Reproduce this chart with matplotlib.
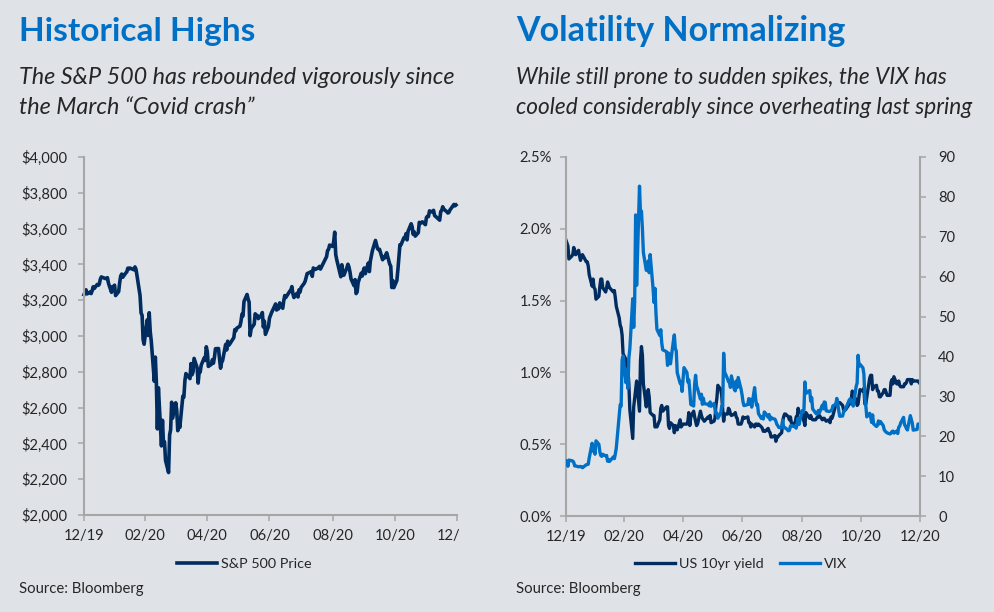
"""Recreates the two-panel S&P 500 / VIX market chart."""

import matplotlib
matplotlib.use("Agg")
import matplotlib.pyplot as plt
import pandas as pd
from matplotlib.transforms import Bbox

NAVY = "#002C5F"
BLUE = "#0070C6"
GREY = "#A6A6A6"
BG = "#DFE3E8"
TEXT = "#262626"

holidays = ["2020-01-01", "2020-01-20", "2020-02-17", "2020-04-10", "2020-05-25",
            "2020-07-03", "2020-09-07", "2020-11-26", "2020-12-25"]
dates = pd.bdate_range("2019-12-31", "2020-12-30", freq="C", holidays=holidays)

sp500 = [
    3231,
    3258, 3235, 3246, 3237, 3253, 3275, 3265, 3288, 3283, 3289, 3317, 3330, 3321, 3321, 3326, 3295, 3244, 3276, 3273, 3284, 3226,
    3248, 3298, 3335, 3346, 3328, 3352, 3358, 3379, 3374, 3380, 3370, 3386, 3373, 3338, 3226, 3128, 3116, 2979, 2954,
    3090, 3003, 3130, 3024, 2972, 2747, 2882, 2741, 2481, 2711, 2386, 2529, 2398, 2409, 2305, 2237, 2447, 2476, 2630, 2541, 2627, 2585,
    2471, 2527, 2489, 2664, 2659, 2750, 2790, 2762, 2846, 2783, 2800, 2875, 2823, 2737, 2799, 2798, 2837, 2878, 2863, 2940, 2912,
    2830, 2842, 2868, 2848, 2881, 2929, 2930, 2870, 2820, 2852, 2863, 2953, 2922, 2971, 2948, 2955, 2991, 3036, 3029, 3044,
    3055, 3080, 3122, 3112, 3193, 3232, 3207, 3190, 3002, 3041, 3066, 3124, 3113, 3115, 3097, 3117, 3131, 3050, 3083, 3009, 3053, 3100,
    3115, 3130, 3179, 3145, 3169, 3152, 3185, 3155, 3197, 3226, 3215, 3224, 3251, 3257, 3276, 3235, 3215, 3239, 3218, 3258, 3246, 3271,
    3294, 3306, 3327, 3349, 3351, 3360, 3333, 3380, 3373, 3372, 3381, 3389, 3374, 3385, 3397, 3431, 3443, 3478, 3484, 3508, 3500,
    3527, 3580, 3455, 3426, 3331, 3398, 3339, 3340, 3383, 3401, 3385, 3357, 3319, 3281, 3315, 3237, 3246, 3298, 3351, 3335, 3363,
    3380, 3348, 3408, 3360, 3419, 3447, 3477, 3534, 3511, 3488, 3483, 3484, 3426, 3443, 3436, 3453, 3465, 3401, 3390, 3271, 3310, 3270,
    3310, 3370, 3443, 3510, 3509, 3550, 3545, 3572, 3537, 3585, 3627, 3610, 3568, 3582, 3558, 3577, 3635, 3629, 3638, 3622,
    3662, 3669, 3667, 3699, 3692, 3702, 3673, 3668, 3663, 3647, 3695, 3702, 3722, 3709, 3694, 3687, 3690, 3703, 3735, 3727, 3732,
]

us10yr = [
    1.92,
    1.88, 1.79, 1.81, 1.82, 1.87, 1.85, 1.82, 1.85, 1.81, 1.78, 1.81, 1.82, 1.77, 1.77, 1.74, 1.68, 1.60, 1.65, 1.59, 1.58, 1.51,
    1.53, 1.60, 1.65, 1.65, 1.59, 1.56, 1.59, 1.63, 1.61, 1.59, 1.56, 1.57, 1.52, 1.46, 1.38, 1.33, 1.31, 1.26, 1.13,
    1.09, 1.00, 1.02, 0.92, 0.74, 0.54, 0.76, 0.82, 0.88, 0.94, 0.73, 1.08, 1.18, 1.12, 0.92, 0.76, 0.84, 0.88, 0.83, 0.72, 0.70, 0.70,
    0.62, 0.63, 0.62, 0.67, 0.75, 0.77, 0.73, 0.76, 0.76, 0.63, 0.61, 0.65, 0.63, 0.58, 0.63, 0.62, 0.60, 0.67, 0.62, 0.63, 0.64,
    0.64, 0.64, 0.66, 0.72, 0.63, 0.69, 0.73, 0.69, 0.66, 0.63, 0.64, 0.73, 0.70, 0.68, 0.67, 0.66, 0.69, 0.68, 0.70, 0.65,
    0.66, 0.68, 0.77, 0.82, 0.91, 0.88, 0.84, 0.74, 0.66, 0.71, 0.71, 0.75, 0.74, 0.71, 0.70, 0.71, 0.72, 0.69, 0.68, 0.64, 0.64, 0.66,
    0.69, 0.68, 0.69, 0.65, 0.65, 0.62, 0.64, 0.62, 0.64, 0.64, 0.63, 0.64, 0.62, 0.61, 0.59, 0.59, 0.59, 0.61, 0.59, 0.58, 0.55, 0.55,
    0.56, 0.52, 0.55, 0.55, 0.56, 0.58, 0.66, 0.69, 0.71, 0.71, 0.69, 0.67, 0.69, 0.65, 0.64, 0.65, 0.69, 0.69, 0.75, 0.72, 0.72,
    0.68, 0.66, 0.63, 0.72, 0.68, 0.70, 0.68, 0.67, 0.67, 0.68, 0.69, 0.69, 0.70, 0.67, 0.68, 0.68, 0.67, 0.66, 0.67, 0.65, 0.69,
    0.68, 0.70, 0.78, 0.79, 0.79, 0.79, 0.79, 0.77, 0.74, 0.74, 0.74, 0.75, 0.78, 0.79, 0.82, 0.87, 0.84, 0.81, 0.77, 0.78, 0.84, 0.88,
    0.87, 0.89, 0.78, 0.78, 0.83, 0.96, 0.98, 0.98, 0.88, 0.90, 0.91, 0.87, 0.87, 0.83, 0.83, 0.86, 0.88, 0.88, 0.84, 0.84,
    0.93, 0.95, 0.92, 0.97, 0.92, 0.92, 0.94, 0.91, 0.90, 0.90, 0.92, 0.92, 0.93, 0.95, 0.95, 0.92, 0.95, 0.94, 0.94, 0.94, 0.93,
]

vix = [
    13.78,
    12.47, 14.02, 13.85, 13.79, 13.45, 12.54, 12.56, 12.32, 12.39, 12.42, 12.32, 12.10, 12.85, 12.91, 12.98, 14.56, 18.23, 16.28, 16.39, 15.49, 18.84,
    17.97, 16.05, 15.15, 14.96, 15.47, 15.04, 15.18, 13.74, 14.15, 13.68, 14.83, 14.38, 15.56, 17.08, 25.03, 27.85, 27.56, 39.16, 40.11,
    33.42, 36.82, 31.99, 39.62, 41.94, 54.46, 47.30, 53.90, 75.47, 57.83, 82.69, 75.91, 76.45, 72.00, 66.04, 61.59, 61.67, 63.95, 61.00, 65.54, 57.08, 53.54,
    57.06, 50.91, 46.80, 45.24, 46.70, 43.35, 41.67, 41.17, 37.76, 40.84, 40.11, 38.15, 43.83, 45.41, 41.98, 41.38, 35.93, 33.29, 33.57, 31.23, 34.15,
    37.19, 35.97, 33.61, 34.12, 31.44, 27.98, 27.57, 33.04, 35.28, 32.61, 31.89, 29.30, 30.53, 27.99, 29.53, 28.16, 28.01, 27.62, 28.59, 27.51,
    28.23, 26.84, 25.66, 25.81, 24.52, 25.81, 27.57, 27.57, 40.79, 36.09, 34.40, 33.67, 33.47, 32.24, 35.12, 31.77, 31.37, 33.84, 32.22, 34.73, 31.78, 30.43,
    28.62, 27.68, 27.94, 29.43, 28.08, 29.26, 27.29, 32.19, 29.52, 27.76, 28.00, 25.68, 24.46, 24.84, 24.32, 26.08, 25.84, 24.74, 25.44, 24.10, 24.76, 24.46,
    24.28, 23.76, 22.99, 22.65, 22.21, 22.13, 24.03, 22.28, 22.13, 22.05, 21.35, 21.51, 22.54, 22.72, 22.54, 22.37, 22.03, 23.27, 24.47, 22.96, 26.41,
    26.12, 26.57, 33.60, 30.75, 31.46, 28.81, 29.71, 26.87, 25.85, 25.59, 26.04, 26.46, 25.83, 27.78, 26.86, 28.58, 28.51, 26.38, 26.19, 26.27, 26.37,
    26.70, 27.63, 27.96, 29.48, 28.06, 26.36, 25.00, 25.07, 26.07, 26.40, 26.97, 27.41, 29.18, 29.35, 28.65, 28.11, 27.55, 32.46, 33.35, 40.28, 37.59, 38.02,
    37.13, 35.55, 29.57, 27.58, 24.86, 25.75, 24.80, 23.45, 25.35, 23.10, 22.45, 22.71, 23.84, 23.11, 23.70, 22.66, 21.64, 21.25, 20.84, 20.57,
    20.77, 21.17, 21.28, 20.79, 21.30, 20.68, 22.27, 22.52, 23.31, 24.72, 22.89, 22.50, 21.93, 21.57, 25.16, 24.23, 23.31, 21.53, 21.70, 23.08, 22.77,
]

tick_dates = pd.to_datetime(["2019-12-31", "2020-02-29", "2020-04-30", "2020-06-30",
                             "2020-08-31", "2020-10-31", "2020-12-31"])
tick_labels = ["12/19", "02/20", "04/20", "06/20", "08/20", "10/20", "12/20"]

price_ticks = [2000, 2200, 2400, 2600, 2800, 3000, 3200, 3400, 3600, 3800, 4000]
yield_ticks = [0, 0.5, 1.0, 1.5, 2.0, 2.5]
vix_ticks = [0, 10, 20, 30, 40, 50, 60, 70, 80, 90]

W, H = 994, 612
plt.rcParams["font.family"] = ["Lato", "DejaVu Sans"]


def px_axes(fig, left, right, top, bottom):
    return fig.add_axes([left / W, 1 - bottom / H, (right - left) / W, (bottom - top) / H])


def style_axis(ax):
    ax.set_facecolor("none")
    ax.spines["top"].set_visible(False)
    for side in ["left", "right", "bottom"]:
        ax.spines[side].set_color(GREY)
        ax.spines[side].set_linewidth(1.5)
    ax.tick_params(axis="both", color=GREY, width=1.1, length=4, labelsize=10.6,
                   labelcolor=TEXT)
    ax.tick_params(axis="x", pad=6)
    ax.tick_params(axis="y", pad=8)
    ax.set_xlim(tick_dates[0], tick_dates[-1])
    ax.set_xticks(tick_dates)
    ax.set_xticklabels(tick_labels)


fig = plt.figure(figsize=(W / 100, H / 100), dpi=100, facecolor=BG)

# left panel
ax1 = px_axes(fig, 84, 457, 157, 515)
style_axis(ax1)
ax1.spines["right"].set_visible(False)
ax1.plot(dates, sp500, color=NAVY, lw=2.6, label="S&P 500 Price", solid_joinstyle="round", clip_on=False)
ax1.set_ylim(2000, 4000)
ax1.set_yticks(price_ticks)
ax1.set_yticklabels([f"${v:,}" for v in price_ticks])
# last date label is cut off in the original
clip_box = Bbox([[0, 0], [460, H]])
last = ax1.get_xticklabels()[-1]
last.set_clip_box(clip_box)
last.set_clip_on(True)

# right panel
ax2 = px_axes(fig, 566, 920, 157, 516)
style_axis(ax2)
ax2.tick_params(axis="y", pad=6)
ax2.spines["right"].set_visible(False)
line1, = ax2.plot(dates, us10yr, color=NAVY, lw=2.4, label="US 10yr yield", solid_joinstyle="round")
ax2.set_ylim(0, 2.5)
ax2.set_yticks(yield_ticks)
ax2.set_yticklabels([f"{v:.1f}%" for v in yield_ticks])

ax3 = ax2.twinx()
ax3.set_facecolor("none")
for side in ["top", "left", "bottom"]:
    ax3.spines[side].set_visible(False)
ax3.spines["right"].set_color(GREY)
ax3.spines["right"].set_linewidth(1.5)
line2, = ax3.plot(dates, vix, color=BLUE, lw=2.4, label="VIX", solid_joinstyle="round")
ax3.set_ylim(0, 90)
ax3.set_yticks(vix_ticks)
ax3.tick_params(axis="y", color=GREY, width=1.1, length=4, labelsize=10.6, labelcolor=TEXT, pad=9)

# legends
legend_kw = dict(frameon=False, fontsize=10.4, handlelength=2.8, handletextpad=0.25,
                 columnspacing=1.1, labelcolor=TEXT, borderpad=0, borderaxespad=0)
ax1.legend(loc="center", bbox_to_anchor=(244 / W, 1 - 564 / H), bbox_transform=fig.transFigure, **legend_kw)
fig.legend([line1, line2], ["US 10yr yield", "VIX"], loc="center", ncol=2,
           bbox_to_anchor=(741 / W, 1 - 564 / H), **legend_kw)

# titles and notes
for x, title, title_size, sub_size, sub1, sub2 in [
    (19, "Historical Highs", 24, 16.8, "The S&P 500 has rebounded vigorously since", "the March \u201cCovid crash\u201d"),
    (516, "Volatility Normalizing", 24.5, 16.3, "While still prone to sudden spikes, the VIX has",
     "cooled considerably since overheating last spring"),
]:
    fig.text(x / W, 1 - 31 / H, title, color=BLUE, fontsize=title_size, fontweight="bold", va="center")
    fig.text(x / W, 1 - 77 / H, sub1, color=TEXT, fontsize=sub_size, style="italic", va="center")
    fig.text(x / W, 1 - 107 / H, sub2, color=TEXT, fontsize=sub_size, style="italic", va="center")
    fig.text(x / W, 1 - 589 / H, "Source: Bloomberg", color=TEXT, fontsize=10.7, va="center")

fig.savefig("out.png", dpi=100, facecolor=BG)
